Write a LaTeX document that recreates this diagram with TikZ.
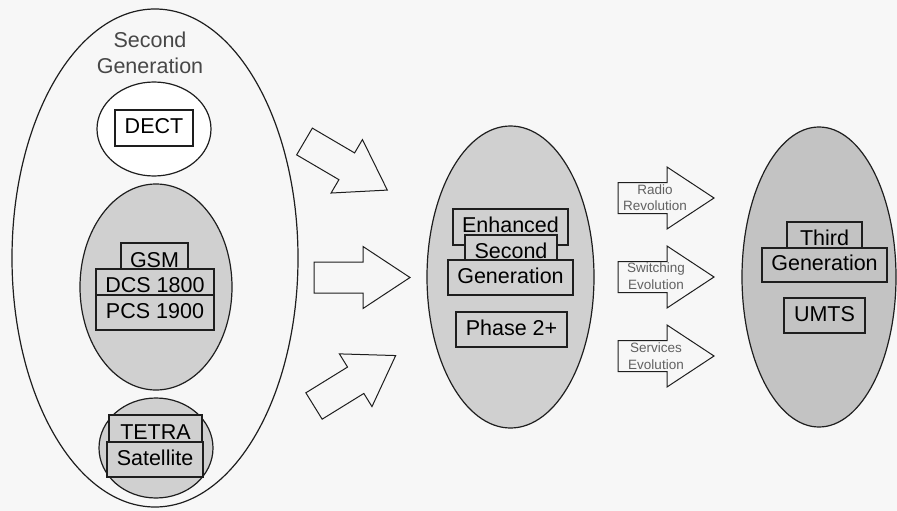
\documentclass[tikz,border=0pt]{standalone}
\usepackage{fontspec}
\setmainfont{Liberation Sans}
\usetikzlibrary{shapes.geometric}
\definecolor{inkline}{HTML}{1E1E1E}
\definecolor{lightfill}{HTML}{D0D0D0}
\definecolor{darkfill}{HTML}{C3C3C3}
\definecolor{paper}{HTML}{F7F7F7}

\begin{document}
\begin{tikzpicture}[x=1pt,y=-1pt,
  oval/.style={ellipse, draw=inkline, line width=1.2pt, inner sep=0pt},
  tag/.style={rectangle, draw=inkline, line width=1.2pt, inner sep=0pt,
    text height=15.5pt, text depth=4.5pt, text=black,
    font=\fontsize{21.5}{24}\selectfont},
  lowtag/.style={text height=21.5pt, text depth=0pt},
  title/.style={font=\fontsize{21.5}{26}\selectfont, text=black!72, align=center, inner sep=0pt},
  note/.style={font=\fontsize{13.5}{16.5}\selectfont, text=black!62, align=center, inner sep=0pt},
  fatarrow/.pic={
    \draw[draw=inkline, line width=1pt, fill=paper, line join=miter]
      (0,-15.5) -- (49,-15.5) -- (49,-31) -- (96,0) -- (49,31) -- (49,15.5) -- (0,15.5) -- cycle;
  }
]
\fill[paper] (0,0) rectangle (897,511);
\useasboundingbox (0,0) rectangle (897,511);

% second generation family
\node[oval, fill=paper, minimum width=286, minimum height=498] (gen2) at (155,258) {};
\node[title] (gen2title) at (150,53) {Second\\Generation};

\node[oval, fill=white, minimum width=114, minimum height=94] (dectoval) at (154,129) {};
\node[tag, fill=white, minimum width=78, minimum height=36] (dect) at (154,128) {DECT};

\node[oval, fill=lightfill, minimum width=152, minimum height=206] (gsmoval) at (156,287) {};
\node[tag, fill=lightfill, lowtag, text height=23.5pt, minimum width=67, minimum height=26] (gsm) at (154.5,256) {GSM};
\node[tag, fill=lightfill, lowtag, minimum width=118, minimum height=26] (dcs) at (155,282) {DCS 1800};
\node[tag, fill=lightfill, minimum width=118, minimum height=35] (pcs) at (155,312.5) {PCS 1900};

\node[oval, fill=lightfill, minimum width=114, minimum height=100] (tetraoval) at (156,448) {};
\node[tag, fill=lightfill, lowtag, text height=21pt, minimum width=93, minimum height=27] (tetra) at (155.5,428.5) {TETRA};
\node[tag, fill=lightfill, minimum width=96, minimum height=35] (sat) at (155,459.5) {Satellite};

% converging arrows
\pic (inA) [rotate=-30.4] at (304.5,141.5) {fatarrow};
\pic (inB) at (314,277.5) {fatarrow};
\pic (inC) [rotate=31.7] at (314,406) {fatarrow};

% enhanced second generation
\node[oval, fill=lightfill, minimum width=167, minimum height=302] (gen25) at (510.5,277) {};
\node[tag, fill=lightfill, minimum width=115, minimum height=36] (enh) at (510.5,227) {Enhanced};
\node[tag, fill=lightfill, lowtag, minimum width=92, minimum height=25] (sec) at (511,247.5) {Second};
\node[tag, fill=lightfill, minimum width=125, minimum height=35] (gen) at (510.5,277.5) {Generation};
\node[tag, fill=lightfill, minimum width=111, minimum height=35] (ph2) at (511.5,329.5) {Phase 2+};

% evolution arrows
\pic (evA) at (618,198) {fatarrow};
\pic (evB) at (618,277) {fatarrow};
\pic (evC) at (618,356) {fatarrow};
\node[note] (radio) at (655,197.5) {Radio\\Revolution};
\node[note] (switching) at (656,276) {Switching\\Evolution};
\node[note] (services) at (656,356) {Services\\Evolution};

% third generation
\node[oval, fill=darkfill, minimum width=154, minimum height=300] (gen3) at (819,277) {};
\node[tag, fill=darkfill, lowtag, minimum width=75, minimum height=26] (third) at (824.5,235) {Third};
\node[tag, fill=darkfill, minimum width=125, minimum height=34] (gen3b) at (824.5,265) {Generation};
\node[tag, fill=darkfill, minimum width=81, minimum height=35] (umts) at (824.5,315.5) {UMTS};
\end{tikzpicture}
\end{document}
